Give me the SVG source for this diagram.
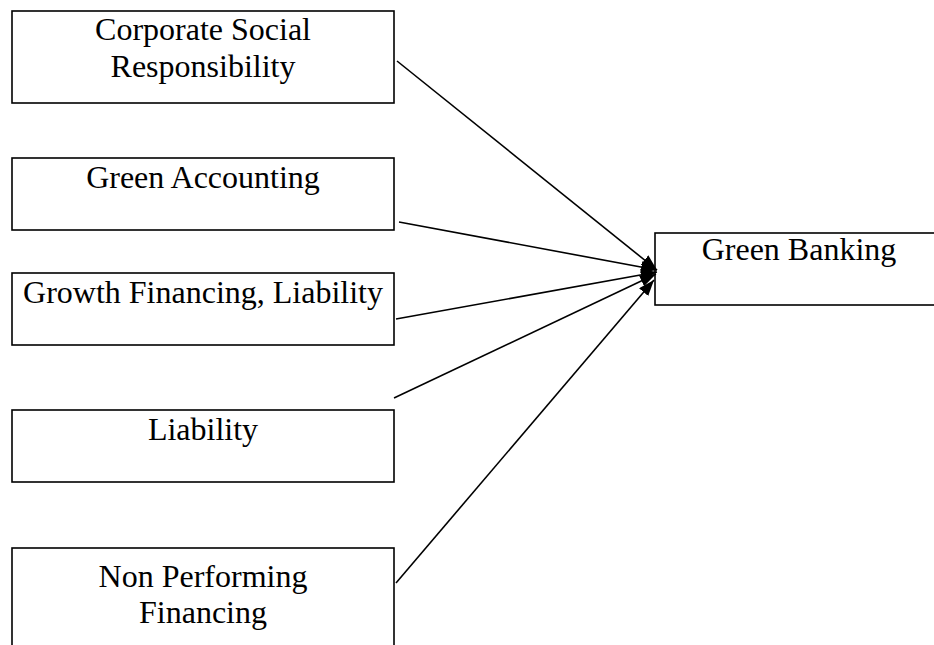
<svg xmlns="http://www.w3.org/2000/svg" width="934" height="645" viewBox="0 0 934 645">
<style>
.box{fill:#fff;stroke:#000;stroke-width:1.6}
.t{font-family:"Liberation Serif","Times New Roman",serif;font-size:32px;fill:#000;text-anchor:middle}
.c{stroke:#000;stroke-width:1.6;fill:none;marker-end:url(#ah)}
</style>
<defs>
<marker id="ah" markerUnits="userSpaceOnUse" markerWidth="18" markerHeight="14" refX="16" refY="6" orient="auto">
<path d="M0,0 L16,6 L0,12 z" fill="#000"/>
</marker>
</defs>
<rect width="934" height="645" fill="#fff"/>
<g id="csr"><rect class="box" x="12" y="11" width="382" height="92"/><text class="t" x="203" y="40">Corporate Social</text><text class="t" x="203" y="77">Responsibility</text></g>
<g id="ga"><rect class="box" x="12" y="158" width="382" height="72"/><text class="t" x="203" y="188">Green Accounting</text></g>
<g id="gfl"><rect class="box" x="12" y="273" width="382" height="72"/><text class="t" x="203" y="303">Growth Financing, Liability</text></g>
<g id="liab"><rect class="box" x="12" y="410" width="382" height="72"/><text class="t" x="203" y="440">Liability</text></g>
<g id="npf"><rect class="box" x="12" y="548" width="382" height="110"/><text class="t" x="203" y="587">Non Performing</text><text class="t" x="203" y="623">Financing</text></g>
<g id="gb"><rect class="box" x="655" y="233" width="290" height="72"/><text class="t" x="799" y="260">Green Banking</text></g>
<g id="connectors">
<line class="c" x1="397" y1="61" x2="657" y2="270"/>
<line class="c" x1="399" y1="222" x2="657" y2="270"/>
<line class="c" x1="396" y1="319" x2="657" y2="272"/>
<line class="c" x1="394" y1="398" x2="656" y2="274"/>
<line class="c" x1="396" y1="583" x2="654" y2="280"/>
</g>
</svg>
